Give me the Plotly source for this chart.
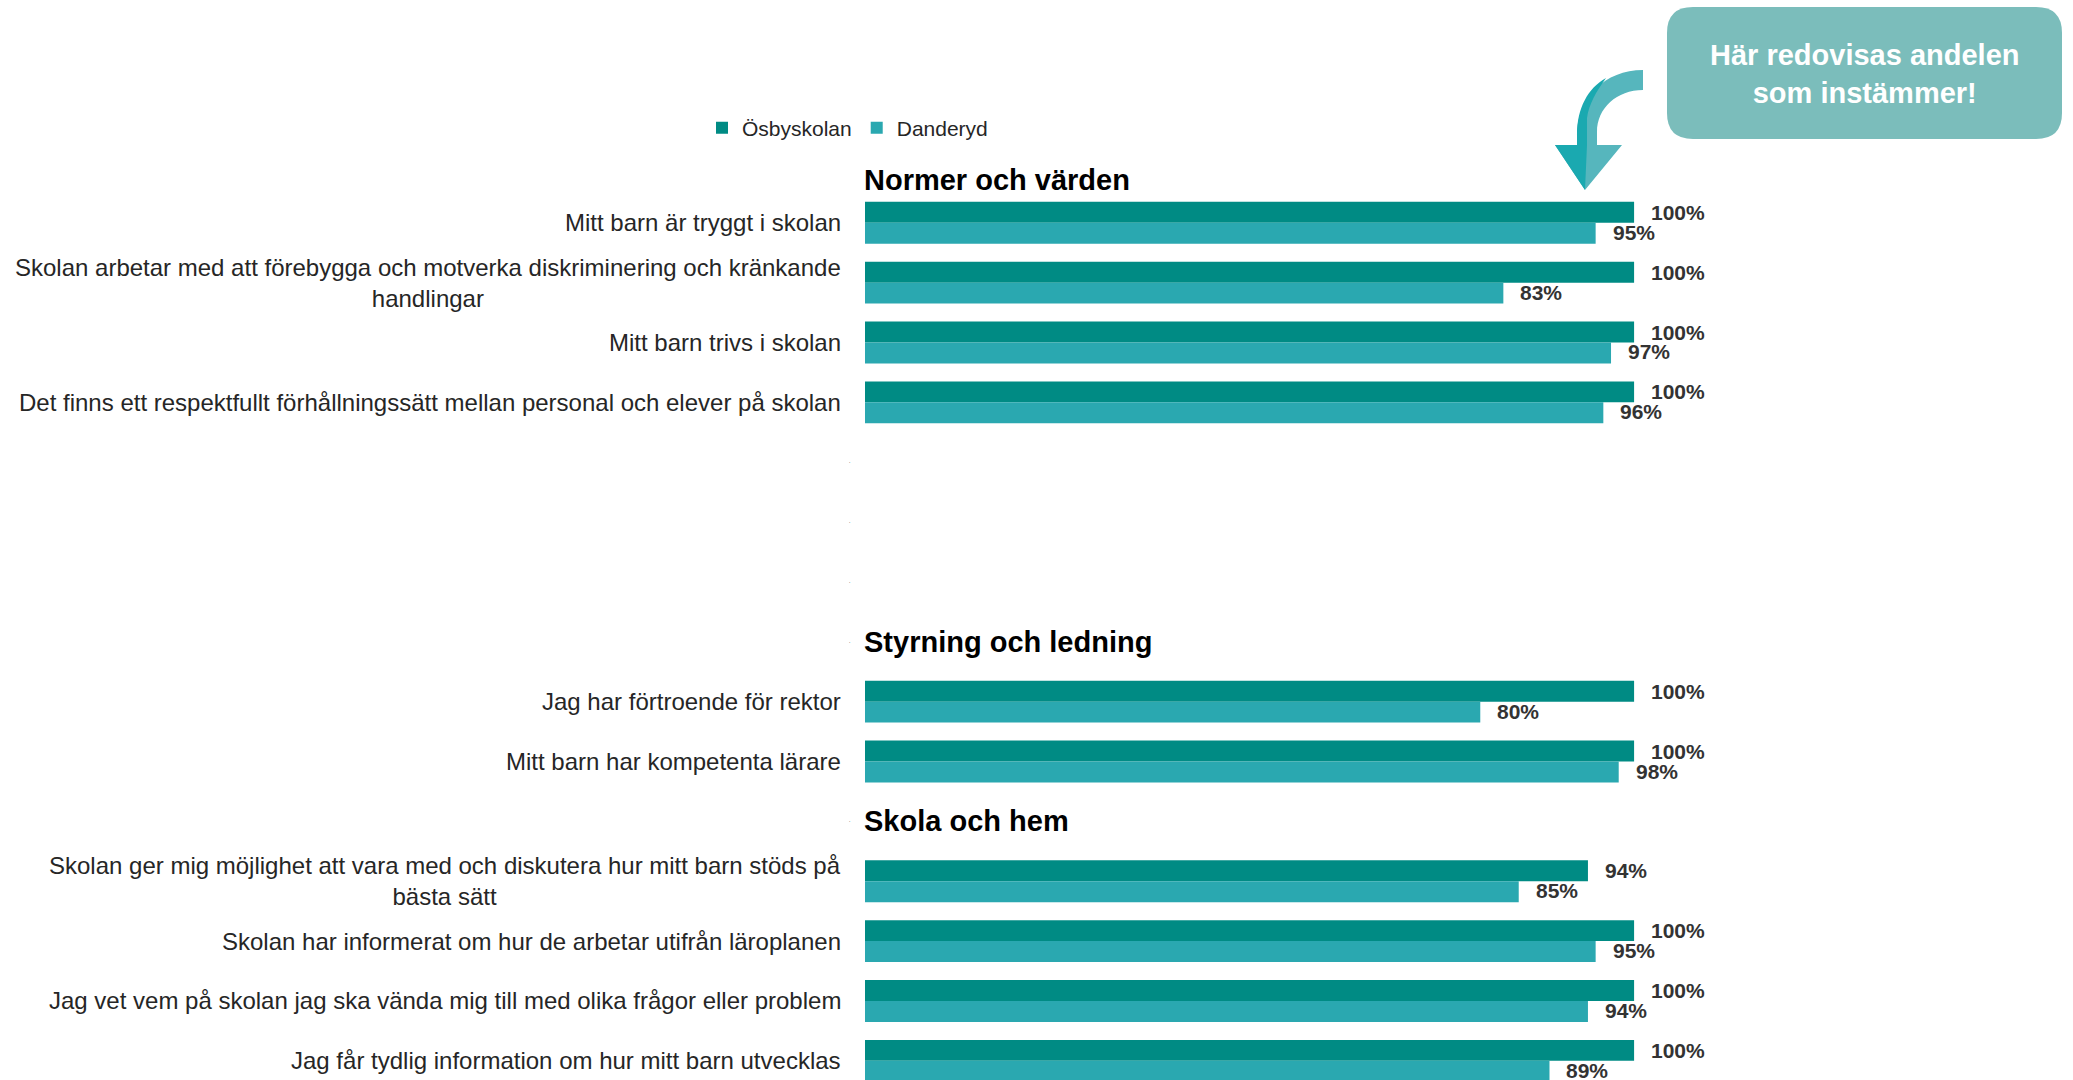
import plotly.graph_objects as go

# ---------------- data ----------------
sections = ["Normer och värden", "Styrning och ledning", "Skola och hem"]
section_questions = [
    [
        "Mitt barn är tryggt i skolan",
        "Skolan arbetar med att förebygga och motverka diskriminering och kränkande<br>handlingar",
        "Mitt barn trivs i skolan",
        "Det finns ett respektfullt förhållningssätt mellan personal och elever på skolan",
    ],
    [
        "Jag har förtroende för rektor",
        "Mitt barn har kompetenta lärare",
    ],
    [
        "Skolan ger mig möjlighet att vara med och diskutera hur mitt barn stöds på<br>bästa sätt",
        "Skolan har informerat om hur de arbetar utifrån läroplanen",
        "Jag vet vem på skolan jag ska vända mig till med olika frågor eller problem",
        "Jag får tydlig information om hur mitt barn utvecklas",
    ],
]
osbyskolan = [[100, 100, 100, 100], [100, 100], [94, 100, 100, 100]]
danderyd = [[95, 83, 97, 96], [80, 98], [85, 95, 94, 89]]
blank_after = [3, 0, 0]  # empty category rows after each section
series_names = ["Ösbyskolan", "Danderyd"]
callout_text = "Här redovisas andelen<br>som instämmer!"

# ---------------- styles ----------------
C_DARK = "#008B84"
C_LIGHT = "#2AA8B0"
C_TEXT = "#262626"
C_LABEL = "#333333"
FONT = "Liberation Sans, Arial, sans-serif"

W, H = 2073, 1080
ML, MR, MT, MB = 865, 362, 133, 0
PW, PH = W - ML - MR, H - MT - MB

# ---------------- build slot layout ----------------
header_pos = []
q_pos, q_text, v_osby, v_dand = [], [], [], []
blank_pos = []
slot = 0
for s, name in enumerate(sections):
    header_pos.append(slot)
    slot += 1
    for q, a, b in zip(section_questions[s], osbyskolan[s], danderyd[s]):
        q_pos.append(slot)
        q_text.append(q)
        v_osby.append(a)
        v_dand.append(b)
        slot += 1
    for _ in range(blank_after[s]):
        blank_pos.append(slot)
        slot += 1

fig = go.Figure()
fig.add_trace(go.Bar(y=q_pos, x=v_osby, orientation="h", name=series_names[0],
                     marker=dict(color=C_DARK, line=dict(width=0)), hoverinfo="skip"))
fig.add_trace(go.Bar(y=q_pos, x=v_dand, orientation="h", name=series_names[1],
                     marker=dict(color=C_LIGHT, line=dict(width=0)), hoverinfo="skip"))

BARGAP = 0.30
off = (1 - BARGAP) / 4

ann = []
# category labels
for y, t in zip(q_pos, q_text):
    ann.append(dict(x=0, y=y, xref="x", yref="y", text=t, showarrow=False,
                    xanchor="right", yanchor="middle", align="center", xshift=-22,
                    font=dict(family=FONT, size=24, color=C_TEXT)))
# small dots at empty rows and headers
for y in blank_pos + header_pos[1:]:
    ann.append(dict(x=0, y=y, xref="x", yref="y", text=".", showarrow=False,
                    xanchor="center", yanchor="bottom", xshift=-16, yshift=-4,
                    font=dict(family=FONT, size=5, color="#000000")))
# section headers
for i, (y, t) in enumerate(zip(header_pos, sections)):
    ann.append(dict(x=0, y=y, xref="x", yref="y", text="<b>" + t + "</b>", showarrow=False,
                    xanchor="left", yanchor="middle", xshift=-3, yshift=(-17 if i == 0 else 0),
                    font=dict(family=FONT, size=29, color="#000000")))
# value labels
for y, a, b in zip(q_pos, v_osby, v_dand):
    ann.append(dict(x=a, y=y - off, xref="x", yref="y", text=f"<b>{a}%</b>", showarrow=False,
                    xanchor="left", yanchor="middle", xshift=15,
                    font=dict(family=FONT, size=21, color=C_LABEL)))
    ann.append(dict(x=b, y=y + off, xref="x", yref="y", text=f"<b>{b}%</b>", showarrow=False,
                    xanchor="left", yanchor="middle", xshift=15, yshift=1,
                    font=dict(family=FONT, size=21, color=C_LABEL)))


def P(x, y):
    """pixel -> paper coords"""
    return (x - ML) / PW, 1 - (y - MT) / PH


def path(cmds):
    out = []
    for c in cmds:
        if isinstance(c, str):
            out.append(c)
        else:
            px, py = P(*c)
            out.append(f"{px:.5f},{py:.5f}")
    return " ".join(out)


# callout box (rounded)
bx0, by0, bx1, by1, r = 1667, 7, 2062, 139, 26
box = path(["M", (bx0 + r, by0), "L", (bx1 - r, by0), "Q", (bx1, by0), (bx1, by0 + r),
            "L", (bx1, by1 - r), "Q", (bx1, by1), (bx1 - r, by1),
            "L", (bx0 + r, by1), "Q", (bx0, by1), (bx0, by1 - r),
            "L", (bx0, by0 + r), "Q", (bx0, by0), (bx0 + r, by0), "Z"])
shapes = [dict(type="path", xref="paper", yref="paper", path=box,
               fillcolor="#7BBDBB", line=dict(width=0), layer="above")]

# curved arrow
arrow = path(["M", (1643, 70), "C", (1605, 70), (1577, 98), (1577, 135),
              "L", (1577, 145), "L", (1555, 145), "L", (1585, 190), "L", (1622, 145),
              "L", (1597, 145), "L", (1597, 132), "C", (1597, 108), (1617, 90), (1643, 90), "Z"])
shapes.append(dict(type="path", xref="paper", yref="paper", path=arrow,
                   fillcolor="#56B6BD", line=dict(width=0), layer="above"))
arrow_dark = path(["M", (1606, 78), "C", (1588, 88), (1577, 108), (1577, 135),
                   "L", (1577, 145), "L", (1555, 145), "L", (1585, 190), "L", (1587, 145),
                   "L", (1587, 118), "C", (1589, 104), (1596, 92), (1606, 78), "Z"])
shapes.append(dict(type="path", xref="paper", yref="paper", path=arrow_dark,
                   fillcolor="#1AA9B0", line=dict(width=0), layer="above"))

cx, cy = P((bx0 + bx1) / 2, (by0 + by1) / 2 + 1)
ann.append(dict(x=cx, y=cy, xref="paper", yref="paper", text="<b>" + callout_text + "</b>",
                showarrow=False, xanchor="center", yanchor="middle", align="center",
                font=dict(family=FONT, size=29, color="#FFFFFF")))

fig.update_layout(
    width=W, height=H,
    margin=dict(l=ML, r=MR, t=MT, b=MB, pad=0, autoexpand=False),
    paper_bgcolor="white", plot_bgcolor="white",
    barmode="group", bargap=BARGAP, bargroupgap=0,
    font=dict(family=FONT, color=C_TEXT),
    xaxis=dict(range=[0, 110], visible=False, fixedrange=True),
    yaxis=dict(range=[-0.5 + PH / 59.86, -0.5], showgrid=False, zeroline=False,
               showticklabels=False, ticks="", showline=False, fixedrange=True),
    showlegend=True,
    legend=dict(orientation="h", xref="container", yref="container",
                x=702 / W, y=1 - 128 / H, xanchor="left", yanchor="middle",
                font=dict(family=FONT, size=21, color=C_TEXT),
                bgcolor="rgba(0,0,0,0)", borderwidth=0, traceorder="normal",
                itemclick=False, itemdoubleclick=False),
    annotations=ann, shapes=shapes,
)

fig.write_html("out.html", config={"displayModeBar": False},
               post_script="document.body.style.margin='0';document.body.style.overflow='hidden';")
